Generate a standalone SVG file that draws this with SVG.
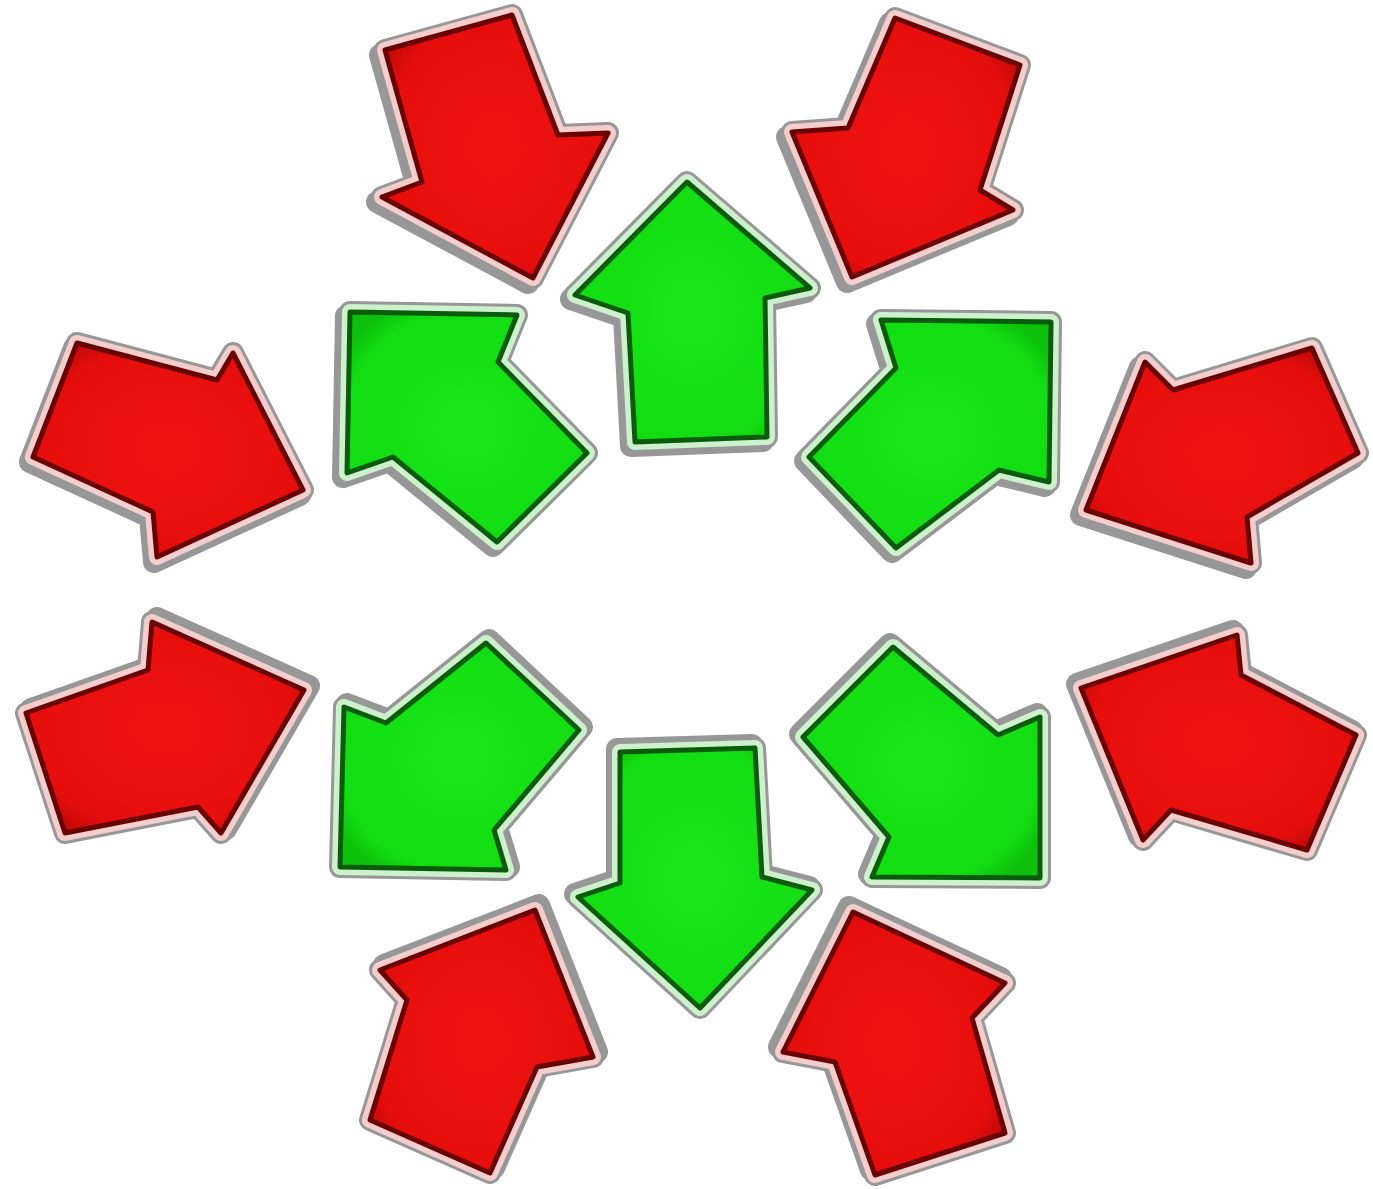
<svg xmlns="http://www.w3.org/2000/svg" xmlns:xlink="http://www.w3.org/1999/xlink" width="1373" height="1189" viewBox="0 0 1373 1189">
<style>
.sh{fill:#858585;stroke:#858585;stroke-width:22;stroke-linejoin:round;opacity:.85}
.gy{fill:#9c9c9c;stroke:#979797;stroke-width:22;stroke-linejoin:round}
.rimR{fill:#f4cdcd;stroke:#f4cdcd;stroke-width:16;stroke-linejoin:round}
.rimG{fill:#cdf0cd;stroke:#cdf0cd;stroke-width:16;stroke-linejoin:round}
.bodyR{fill:url(#fillR);stroke:#6a0202;stroke-width:5;stroke-linejoin:round}
.bodyG{fill:url(#fillG);stroke:#0a5c0a;stroke-width:5;stroke-linejoin:round}
</style>
<defs>
<radialGradient id="fillR" cx="50%" cy="50%" r="60%">
<stop offset="0" stop-color="#f01410"/><stop offset="0.8" stop-color="#e60e0c"/><stop offset="1" stop-color="#c00808"/>
</radialGradient>
<radialGradient id="fillG" cx="50%" cy="50%" r="60%">
<stop offset="0" stop-color="#18e818"/><stop offset="0.85" stop-color="#12dd12"/><stop offset="1" stop-color="#0cc00c"/>
</radialGradient>
<path id="pR1" d="M533,278 L608,133 L558,135 L512,15 L385,50 L422,182 L382,197 Z"/>
<path id="pR2" d="M852,277 L792,132 L848,128 L895,18 L1020,65 L980,190 L1013,210 Z"/>
<path id="pR3" d="M303,490 L233,353 L217,380 L77,343 L33,457 L153,512 L157,557 Z"/>
<path id="pR4" d="M1086,510 L1145,362 L1173,390 L1312,348 L1358,453 L1247,517 L1251,563 Z"/>
<path id="pR5" d="M304,690 L152,622 L148,670 L26,713 L65,833 L198,807 L221,833 Z"/>
<path id="pR6" d="M1081,688 L1237,635 L1241,675 L1356,735 L1307,850 L1171,810 L1143,840 Z"/>
<path id="pR7" d="M535,910 L593,1057 L537,1067 L490,1173 L370,1120 L407,1000 L380,970 Z"/>
<path id="pR8" d="M853,912 L1005,983 L972,1018 L1005,1133 L875,1175 L835,1062 L783,1052 Z"/>
<path id="pG1" d="M687,182 L810,288 L765,298 L767,437 L635,442 L628,313 L575,295 Z"/>
<path id="pG2" d="M350,312 L517,315 L498,362 L587,453 L497,542 L393,457 L347,473 Z"/>
<path id="pG3" d="M1051,322 L1049,482 L999,470 L896,548 L809,457 L896,368 L881,320 Z"/>
<path id="pG4" d="M1040,878 L1040,717 L998,735 L893,647 L803,737 L889,837 L872,877 Z"/>
<path id="pG5" d="M340,867 L344,707 L386,723 L486,643 L579,730 L494,830 L506,870 Z"/>
<path id="pG6" d="M700,1008 L578,897 L620,883 L620,752 L755,748 L762,877 L812,890 Z"/>
</defs>
<rect width="1373" height="1189" fill="#ffffff"/>

<g id="red-top-left"><use href="#pR1" class="sh" transform="translate(-5,5)"/><use href="#pR1" class="gy"/><use href="#pR1" class="rimR"/><use href="#pR1" class="bodyR"/></g>
<g id="red-top-right"><use href="#pR2" class="sh" transform="translate(-5,5)"/><use href="#pR2" class="gy"/><use href="#pR2" class="rimR"/><use href="#pR2" class="bodyR"/></g>
<g id="red-left-upper"><use href="#pR3" class="sh" transform="translate(-3,5)"/><use href="#pR3" class="gy"/><use href="#pR3" class="rimR"/><use href="#pR3" class="bodyR"/></g>
<g id="red-right-upper"><use href="#pR4" class="sh" transform="translate(-5,5)"/><use href="#pR4" class="gy"/><use href="#pR4" class="rimR"/><use href="#pR4" class="bodyR"/></g>
<g id="red-left-lower"><use href="#pR5" class="sh" transform="translate(5,-4)"/><use href="#pR5" class="gy"/><use href="#pR5" class="rimR"/><use href="#pR5" class="bodyR"/></g>
<g id="red-right-lower"><use href="#pR6" class="sh" transform="translate(-4,-4)"/><use href="#pR6" class="gy"/><use href="#pR6" class="rimR"/><use href="#pR6" class="bodyR"/></g>
<g id="red-bottom-left"><use href="#pR7" class="sh" transform="translate(4,-5)"/><use href="#pR7" class="gy"/><use href="#pR7" class="rimR"/><use href="#pR7" class="bodyR"/></g>
<g id="red-bottom-right"><use href="#pR8" class="sh" transform="translate(-4,-5)"/><use href="#pR8" class="gy"/><use href="#pR8" class="rimR"/><use href="#pR8" class="bodyR"/></g>

<g id="green-up"><use href="#pG1" class="sh" transform="translate(-4,4)"/><use href="#pG1" class="gy"/><use href="#pG1" class="rimG"/><use href="#pG1" class="bodyG"/></g>
<g id="green-up-left"><use href="#pG2" class="sh" transform="translate(-4,4)"/><use href="#pG2" class="gy"/><use href="#pG2" class="rimG"/><use href="#pG2" class="bodyG"/></g>
<g id="green-up-right"><use href="#pG3" class="sh" transform="translate(-4,4)"/><use href="#pG3" class="gy"/><use href="#pG3" class="rimG"/><use href="#pG3" class="bodyG"/></g>
<g id="green-down-right"><use href="#pG4" class="sh" transform="translate(-3,-3)"/><use href="#pG4" class="gy"/><use href="#pG4" class="rimG"/><use href="#pG4" class="bodyG"/></g>
<g id="green-down-left"><use href="#pG5" class="sh" transform="translate(3,-3)"/><use href="#pG5" class="gy"/><use href="#pG5" class="rimG"/><use href="#pG5" class="bodyG"/></g>
<g id="green-down"><use href="#pG6" class="sh" transform="translate(-3,-3)"/><use href="#pG6" class="gy"/><use href="#pG6" class="rimG"/><use href="#pG6" class="bodyG"/></g>
</svg>
